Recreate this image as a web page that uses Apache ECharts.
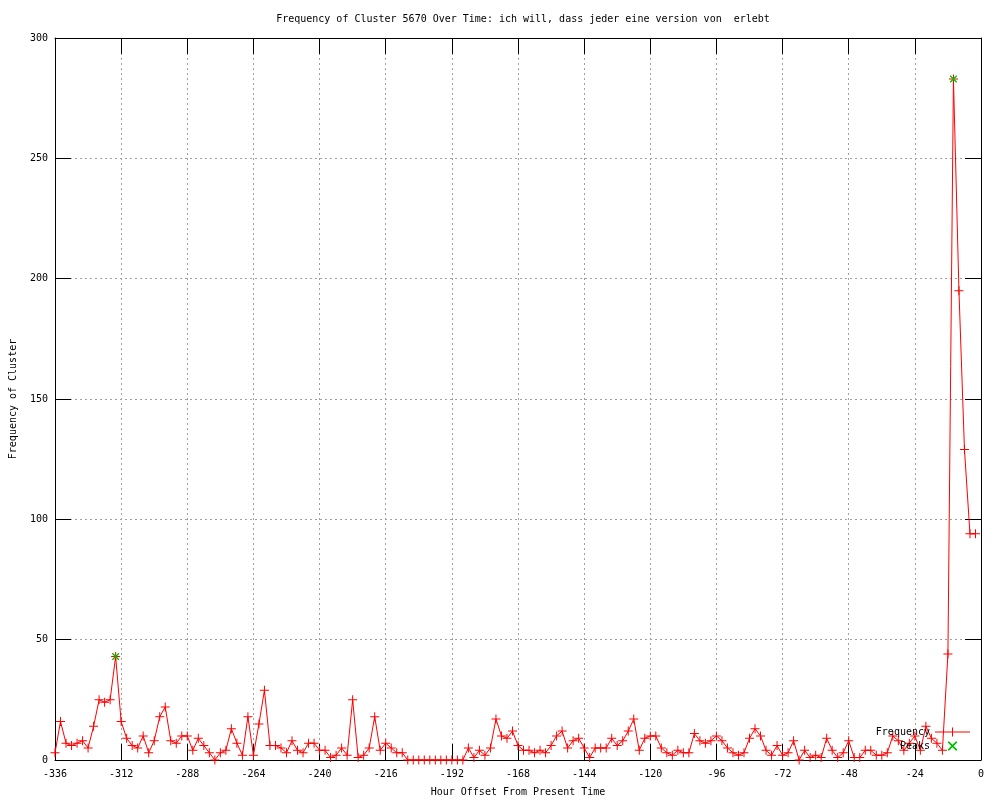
<!DOCTYPE html>
<html>
<head>
<meta charset="utf-8">
<script src="https://cdn.jsdelivr.net/npm/echarts@6/dist/echarts.min.js"></script>
<style>html,body{margin:0;padding:0;background:#fff}#chart{width:1000px;height:800px}</style>
</head>
<body>
<div id="chart"></div>
<script>
// ---- data ----
const titleText = 'Frequency of Cluster 5670 Over Time: ich will, dass jeder eine version von  erlebt';
const xAxisName = 'Hour Offset From Present Time';
const yAxisName = 'Frequency of Cluster';
const firstHour = -336;     // hour offset of first sample
const hourStep = 2;         // samples every 2 hours
const frequency = [
  3,16,7,6,7,8,5,14,25,24,25,43,
  16,9,6,5,10,3,8,18,22,8,7,10,
  10,4,9,6,3,0,3,4,13,7,2,18,
  2,15,29,6,6,5,3,8,4,3,7,7,
  4,4,1,2,5,2,25,1,2,5,18,4,
  7,5,3,3,0,0,0,0,0,0,0,0,
  0,0,0,5,1,4,2,5,17,10,9,12,
  6,4,4,3,4,3,6,10,12,5,8,9,
  5,1,5,5,5,9,6,8,12,17,4,9,
  10,10,5,3,2,4,3,3,11,8,7,8,
  10,8,5,3,2,3,9,13,10,4,2,6,
  2,3,8,0,4,1,2,1,9,4,1,3,
  8,1,1,4,4,2,2,3,10,8,4,7,
  10,4,14,9,7,4,44,283,195,129,94,94
];
const peakHours = [-314, -10];
const peakValues = [43, 283];
const xMin = -336, xMax = 0, xInterval = 24;
const yMin = 0, yMax = 300, yInterval = 50;

// ---- build ----
const freqData = frequency.map((v, i) => [firstHour + i * hourStep, v]);
const peakData = peakHours.map((h, i) => [h, peakValues[i]]);

const FONT = 'DejaVu Sans Mono';
const plusPath = 'path://M0,4H9V5H0Z M4,0H5V9H4Z';
const crossPath = 'path://M0,0H1.1L8,6.9V8H6.9L0,1.1Z M6.9,0H8V1.1L1.1,8H0V6.9Z';
const freqLegendIcon = 'path://M0,4H35V5H0Z M17,0H18V9H17Z';

const gridLine = {show: true, showMinLine: false, showMaxLine: false,
  lineStyle: {color: '#a0a0a0', width: 1, type: [2, 3]}};
const blackLine = {show: true, onZero: false, lineStyle: {color: '#000', width: 1}};
const tick = {show: true, inside: true, length: 16, lineStyle: {color: '#000', width: 1}};

const chart = echarts.init(document.getElementById('chart'), null, {renderer: 'canvas'});
chart.setOption({
  animation: false,
  backgroundColor: '#fff',
  title: {
    text: titleText, left: 518, top: 9, textAlign: 'center',
    textStyle: {fontFamily: FONT, fontSize: 10, fontWeight: 'normal', color: '#000'}
  },
  legend: {
    orient: 'vertical', right: 30, top: 726, align: 'right', padding: 0,
    itemWidth: 35, itemHeight: 9, itemGap: 2, selectedMode: false,
    itemStyle: {borderWidth: 0},
    textStyle: {fontFamily: FONT, fontSize: 10, color: '#000', lineHeight: 12},
    data: [{name: 'Frequency', icon: freqLegendIcon}, {name: 'Peaks', icon: crossPath}]
  },
  grid: {left: 55, right: 19, top: 38, bottom: 40, containLabel: false, outerBoundsMode: 'none'},
  xAxis: [{
    type: 'value', min: xMin, max: xMax, interval: xInterval, position: 'bottom',
    axisLine: blackLine, axisTick: tick, splitLine: gridLine,
    axisLabel: {color: '#000', fontFamily: FONT, fontSize: 10, margin: 9},
    name: xAxisName, nameLocation: 'middle', nameGap: 27,
    nameTextStyle: {color: '#000', fontFamily: FONT, fontSize: 10}
  }, {
    type: 'value', min: xMin, max: xMax, interval: xInterval, position: 'top',
    axisLine: blackLine, axisTick: tick, splitLine: {show: false}, axisLabel: {show: false}
  }],
  yAxis: [{
    type: 'value', min: yMin, max: yMax, interval: yInterval, position: 'left',
    axisLine: blackLine, axisTick: tick, splitLine: gridLine,
    axisLabel: {color: '#000', fontFamily: FONT, fontSize: 10, margin: 7},
    name: yAxisName, nameLocation: 'middle', nameGap: 37, nameRotate: 90,
    nameTextStyle: {color: '#000', fontFamily: FONT, fontSize: 10}
  }, {
    type: 'value', min: yMin, max: yMax, interval: yInterval, position: 'right',
    axisLine: blackLine, axisTick: tick, splitLine: {show: false}, axisLabel: {show: false}
  }],
  series: [{
    name: 'Frequency', type: 'line', data: freqData,
    xAxisIndex: 0, yAxisIndex: 0,
    symbol: plusPath, symbolSize: 9, showAllSymbol: true,
    lineStyle: {color: '#ff0000', width: 1},
    itemStyle: {color: '#ff0000', borderWidth: 0},
    emphasis: {disabled: true}, z: 3
  }, {
    name: 'Peaks', type: 'scatter', data: peakData,
    xAxisIndex: 0, yAxisIndex: 0,
    symbol: crossPath, symbolSize: 7,
    itemStyle: {color: '#00c000', opacity: 1, borderWidth: 0},
    emphasis: {disabled: true}, z: 4
  }]
});
</script>
</body>
</html>
